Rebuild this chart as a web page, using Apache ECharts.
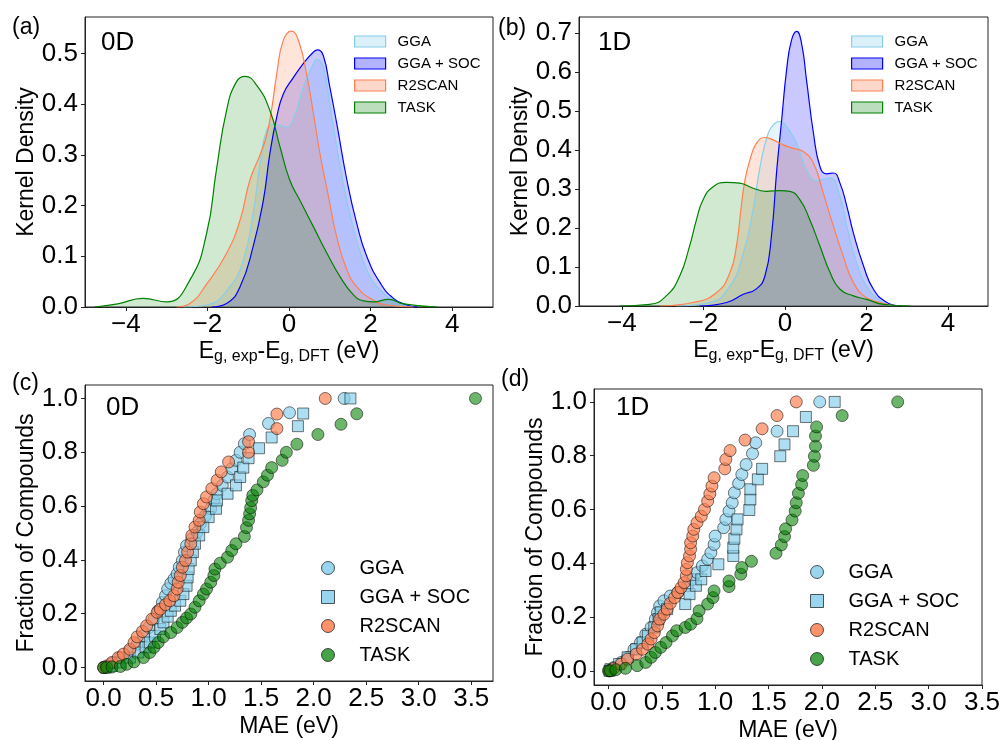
<!DOCTYPE html>
<html>
<head>
<meta charset="utf-8">
<script src="https://cdn.jsdelivr.net/npm/echarts@6/dist/echarts.min.js"></script>
<style>
html, body { margin: 0; padding: 0; background: #fff; }
#chart { width: 1002px; height: 740px; }
</style>
</head>
<body>
<div id="chart"></div>
<script>
// ---- data ----
var methods = ['GGA', 'GGA + SOC', 'R2SCAN', 'TASK'];

// kernel density curves, [E_exp - E_DFT, density]
var kde0D_GGA = [[-2.6,0],[-2.02,0.004],[-1.45,0.04],[-1.12,0.093],[-0.88,0.184],[-0.71,0.283],[-0.55,0.348],[-0.38,0.361],[-0.22,0.358],[-0.06,0.355],[0.15,0.381],[0.35,0.434],[0.6,0.48],[0.68,0.488],[0.84,0.473],[1.0,0.40],[1.17,0.316],[1.42,0.21],[1.66,0.132],[1.91,0.073],[2.24,0.033],[2.65,0.010],[3.05,0]];
var kde0D_SOC = [[-1.9,0],[-1.53,0.007],[-1.2,0.04],[-0.88,0.119],[-0.63,0.21],[-0.47,0.302],[-0.30,0.375],[-0.14,0.42],[0.11,0.453],[0.35,0.48],[0.6,0.503],[0.70,0.507],[0.84,0.496],[1.0,0.434],[1.17,0.362],[1.42,0.25],[1.66,0.165],[1.91,0.099],[2.24,0.047],[2.56,0.017],[2.89,0.004],[3.15,0]];
var kde0D_R2SCAN = [[-2.76,0],[-2.43,0.007],[-2.02,0.045],[-1.53,0.106],[-1.2,0.171],[-0.96,0.25],[-0.71,0.30],[-0.55,0.338],[-0.43,0.388],[-0.30,0.46],[-0.14,0.526],[0.06,0.544],[0.23,0.526],[0.43,0.46],[0.60,0.381],[0.76,0.302],[0.97,0.217],[1.17,0.138],[1.42,0.073],[1.66,0.040],[1.99,0.017],[2.4,0.004],[3.05,0]];
var kde0D_TASK = [[-4.77,0],[-4.2,0.006],[-3.58,0.017],[-3.0,0.010],[-2.43,0.053],[-2.02,0.145],[-1.78,0.27],[-1.53,0.388],[-1.29,0.444],[-1.08,0.455],[-0.79,0.437],[-0.47,0.388],[-0.22,0.316],[0.02,0.25],[0.27,0.21],[0.6,0.158],[0.93,0.106],[1.25,0.06],[1.58,0.024],[1.83,0.012],[2.07,0.010],[2.44,0.015],[2.81,0.006],[3.63,0]];

var kde1D_GGA = [[-2.66,0],[-1.84,0.009],[-1.35,0.051],[-1.02,0.136],[-0.78,0.247],[-0.61,0.357],[-0.41,0.443],[-0.25,0.468],[-0.12,0.473],[0.04,0.46],[0.29,0.417],[0.53,0.349],[0.78,0.321],[0.94,0.325],[1.11,0.328],[1.35,0.281],[1.52,0.204],[1.76,0.111],[2.0,0.051],[2.34,0.013],[2.66,0]];
var kde1D_SOC = [[-2.09,0],[-1.43,0.009],[-1.02,0.03],[-0.70,0.044],[-0.49,0.077],[-0.33,0.18],[-0.20,0.349],[-0.08,0.477],[0.04,0.604],[0.16,0.681],[0.29,0.704],[0.41,0.672],[0.53,0.579],[0.70,0.443],[0.86,0.357],[1.02,0.339],[1.19,0.341],[1.35,0.315],[1.52,0.255],[1.68,0.187],[1.93,0.102],[2.17,0.043],[2.5,0.009],[2.83,0]];
var kde1D_R2SCAN = [[-3.07,0],[-2.25,0.009],[-1.68,0.034],[-1.35,0.085],[-1.19,0.153],[-1.07,0.256],[-0.98,0.323],[-0.86,0.374],[-0.70,0.417],[-0.49,0.432],[-0.29,0.426],[-0.04,0.413],[0.2,0.404],[0.45,0.396],[0.70,0.366],[0.94,0.29],[1.19,0.204],[1.43,0.128],[1.68,0.06],[2.0,0.021],[2.34,0.009],[2.75,0]];
var kde1D_TASK = [[-4.06,0],[-3.32,0.004],[-2.91,0.026],[-2.58,0.077],[-2.34,0.153],[-2.17,0.221],[-2.01,0.272],[-1.76,0.306],[-1.43,0.317],[-1.11,0.315],[-0.78,0.302],[-0.45,0.294],[-0.12,0.296],[0.12,0.294],[0.37,0.272],[0.61,0.221],[0.86,0.153],[1.11,0.085],[1.35,0.043],[1.68,0.026],[2.0,0.017],[2.42,0.004],[3.07,0]];

// cumulative fraction of compounds vs MAE, [MAE, fraction]
var mae0D_GGA = [[0.02,0.002],[0.08,0.015],[0.16,0.037],[0.25,0.062],[0.32,0.087],[0.38,0.118],[0.43,0.149],[0.48,0.18],[0.52,0.211],[0.56,0.242],[0.59,0.267],[0.61,0.292],[0.64,0.313],[0.67,0.329],[0.70,0.348],[0.72,0.373],[0.75,0.398],[0.77,0.429],[0.79,0.453],[0.84,0.478],[0.89,0.503],[0.92,0.534],[0.97,0.565],[1.02,0.59],[1.05,0.621],[1.08,0.646],[1.13,0.677],[1.18,0.708],[1.22,0.739],[1.26,0.77],[1.30,0.80],[1.34,0.832],[1.39,0.866],[1.57,0.907],[1.77,0.947],[2.29,1.0]];
var mae0D_SOC = [[0.02,0],[0.08,0.006],[0.16,0.019],[0.25,0.037],[0.33,0.056],[0.40,0.075],[0.44,0.093],[0.49,0.118],[0.54,0.143],[0.57,0.168],[0.61,0.189],[0.64,0.211],[0.68,0.23],[0.73,0.248],[0.76,0.273],[0.79,0.304],[0.80,0.335],[0.81,0.366],[0.83,0.398],[0.85,0.429],[0.87,0.46],[0.91,0.491],[0.95,0.522],[1.00,0.559],[1.07,0.59],[1.08,0.621],[1.18,0.646],[1.26,0.677],[1.30,0.708],[1.33,0.743],[1.38,0.778],[1.48,0.815],[1.60,0.855],[1.85,0.897],[1.90,0.944],[2.35,1.0]];
var mae0D_R2SCAN = [[0,0],[0.03,0.006],[0.08,0.019],[0.14,0.037],[0.19,0.05],[0.25,0.068],[0.29,0.093],[0.32,0.114],[0.37,0.134],[0.41,0.155],[0.46,0.18],[0.51,0.205],[0.54,0.217],[0.59,0.234],[0.63,0.248],[0.67,0.267],[0.70,0.292],[0.71,0.317],[0.73,0.342],[0.75,0.373],[0.78,0.398],[0.80,0.429],[0.83,0.46],[0.84,0.491],[0.87,0.522],[0.91,0.547],[0.92,0.578],[0.95,0.609],[0.98,0.634],[1.03,0.665],[1.08,0.696],[1.12,0.727],[1.19,0.764],[1.38,0.80],[1.38,0.839],[1.65,0.888],[1.65,0.942],[2.11,1.0]];
var mae0D_TASK = [[0,0],[0.03,0],[0.08,0.002],[0.16,0.004],[0.22,0.012],[0.29,0.021],[0.38,0.037],[0.44,0.056],[0.48,0.075],[0.52,0.093],[0.57,0.114],[0.64,0.13],[0.70,0.149],[0.75,0.168],[0.79,0.184],[0.83,0.199],[0.87,0.224],[0.91,0.248],[0.95,0.273],[0.98,0.292],[1.02,0.317],[1.05,0.342],[1.06,0.366],[1.11,0.388],[1.18,0.41],[1.22,0.435],[1.26,0.46],[1.34,0.487],[1.36,0.52],[1.38,0.547],[1.39,0.571],[1.40,0.594],[1.41,0.62],[1.42,0.64],[1.46,0.66],[1.52,0.69],[1.56,0.715],[1.60,0.743],[1.70,0.77],[1.74,0.80],[1.84,0.830],[2.04,0.866],[2.26,0.904],[2.41,0.943],[3.54,1.0]];

var mae1D_GGA = [[0.01,0],[0.05,0.012],[0.12,0.031],[0.18,0.05],[0.24,0.08],[0.30,0.105],[0.35,0.136],[0.40,0.161],[0.44,0.192],[0.46,0.217],[0.48,0.241],[0.52,0.26],[0.58,0.278],[0.65,0.291],[0.74,0.316],[0.79,0.34],[0.83,0.365],[0.88,0.39],[0.93,0.415],[0.96,0.439],[0.99,0.47],[1.00,0.501],[1.08,0.532],[1.10,0.563],[1.13,0.594],[1.16,0.625],[1.18,0.662],[1.22,0.697],[1.25,0.73],[1.29,0.767],[1.35,0.808],[1.38,0.848],[1.58,0.891],[1.98,1.0]];
var mae1D_SOC = [[0.01,0],[0.02,0.006],[0.10,0.025],[0.18,0.05],[0.26,0.08],[0.32,0.105],[0.37,0.13],[0.43,0.161],[0.47,0.192],[0.49,0.217],[0.55,0.229],[0.72,0.248],[0.76,0.285],[0.82,0.316],[0.87,0.34],[0.91,0.371],[1.03,0.396],[1.17,0.427],[1.17,0.458],[1.18,0.491],[1.20,0.526],[1.21,0.563],[1.32,0.598],[1.33,0.637],[1.33,0.675],[1.40,0.712],[1.44,0.751],[1.61,0.798],[1.65,0.842],[1.73,0.891],[1.85,0.944],[2.12,1.0]];
var mae1D_R2SCAN = [[0.01,0],[0.05,0.009],[0.12,0.025],[0.18,0.043],[0.26,0.062],[0.32,0.08],[0.37,0.099],[0.40,0.118],[0.43,0.142],[0.46,0.167],[0.48,0.192],[0.52,0.21],[0.55,0.229],[0.58,0.251],[0.62,0.272],[0.65,0.291],[0.68,0.309],[0.71,0.328],[0.73,0.353],[0.73,0.377],[0.74,0.402],[0.76,0.427],[0.77,0.452],[0.77,0.476],[0.79,0.501],[0.80,0.526],[0.83,0.551],[0.87,0.575],[0.90,0.60],[0.93,0.631],[0.95,0.658],[0.97,0.687],[0.99,0.718],[1.09,0.751],[1.10,0.786],[1.14,0.819],[1.28,0.858],[1.44,0.90],[1.58,0.949],[1.76,1.0]];
var mae1D_TASK = [[0.0,0],[0.02,0],[0.07,0.004],[0.16,0.009],[0.27,0.019],[0.35,0.031],[0.40,0.05],[0.44,0.068],[0.49,0.087],[0.54,0.105],[0.60,0.13],[0.64,0.149],[0.72,0.161],[0.77,0.173],[0.83,0.194],[0.85,0.223],[0.93,0.248],[0.98,0.272],[0.99,0.297],[1.13,0.313],[1.13,0.334],[1.24,0.359],[1.25,0.384],[1.34,0.407],[1.57,0.437],[1.62,0.468],[1.65,0.499],[1.66,0.528],[1.72,0.561],[1.75,0.594],[1.76,0.625],[1.78,0.66],[1.81,0.693],[1.82,0.726],[1.92,0.764],[1.93,0.798],[1.94,0.835],[1.94,0.873],[1.95,0.907],[2.19,0.949],[2.71,1.0]];

// tick labels
var kdeXTicks = [-4, -2, 0, 2, 4];
var kde0DYTicks = [0, 0.1, 0.2, 0.3, 0.4, 0.5];
var kde1DYTicks = [0, 0.1, 0.2, 0.3, 0.4, 0.5, 0.6, 0.7];
var maeXTicks = [0, 0.5, 1, 1.5, 2, 2.5, 3, 3.5];
var fracYTicks = [0, 0.2, 0.4, 0.6, 0.8, 1];

// ---- styles ----
var FONT = '"Liberation Sans", Arial, Helvetica, sans-serif';
var lineColors = ['#87ceeb', '#0000ff', '#ff7f50', '#008000'];
var fillColors = ['rgba(135,206,235,0.3)', 'rgba(0,0,255,0.3)', 'rgba(255,127,80,0.3)', 'rgba(0,128,0,0.26)'];
var markerFills = ['rgba(135,206,235,0.85)', 'rgba(135,206,235,0.85)', 'rgba(255,127,80,0.85)', 'rgba(0,128,0,0.72)'];
var markerShapes = ['circle', 'rect', 'circle', 'circle'];
var markerEdge = 'rgba(0,0,0,0.65)';

var chart = echarts.init(document.getElementById('chart'));

function signed(v) {
    return v < 0 ? '\u2212' + Math.abs(v) : String(v);
}
function oneDec(v) {
    return v.toFixed(1);
}

function makeGrid(left, top, width, height) {
    return {
        left: left, top: top, width: width, height: height,
        show: true, borderColor: '#222', borderWidth: 1,
        containLabel: false, outerBoundsMode: 'none'
    };
}

var subRich = {
    m: { fontSize: 23, lineHeight: 26, fontFamily: FONT, color: '#000' },
    s: { fontSize: 16, lineHeight: 14, verticalAlign: 'bottom', fontFamily: FONT, color: '#000' }
};

function axis(gridIndex, min, max, ticks, fmt, name, nameGap, isY) {
    return {
        type: 'value',
        gridIndex: gridIndex,
        min: min,
        max: max,
        axisLine: { show: true, onZero: false, lineStyle: { color: '#222', width: 1 } },
        axisTick: { show: true, inside: false, length: 4, customValues: ticks, lineStyle: { color: '#222', width: 1 } },
        axisLabel: {
            customValues: ticks, formatter: fmt, margin: isY ? 7 : 5,
            color: '#000', fontSize: 26, fontFamily: FONT
        },
        splitLine: { show: false },
        name: name,
        nameLocation: 'middle',
        nameGap: nameGap,
        nameMoveOverlap: false,
        nameTextStyle: { fontSize: 23, fontFamily: FONT, color: '#000', rich: subRich, verticalAlign: isY ? 'bottom' : 'top' }
    };
}

var egName = '{m|E}{s|g, exp}{m|-E}{s|g, DFT}{m| (eV)}';

var kdeData = [
    [kde0D_GGA, kde0D_SOC, kde0D_R2SCAN, kde0D_TASK],
    [kde1D_GGA, kde1D_SOC, kde1D_R2SCAN, kde1D_TASK]
];
var maeData = [
    [mae0D_GGA, mae0D_SOC, mae0D_R2SCAN, mae0D_TASK],
    [mae1D_GGA, mae1D_SOC, mae1D_R2SCAN, mae1D_TASK]
];

var series = [];
kdeData.forEach(function (set, p) {
    set.forEach(function (d, k) {
        series.push({
            type: 'line', name: methods[k],
            xAxisIndex: p, yAxisIndex: p,
            data: d,
            symbol: 'none', showSymbol: false,
            smooth: 0.5,
            silent: true,
            lineStyle: { color: lineColors[k], width: 1.2 },
            itemStyle: { color: lineColors[k] },
            areaStyle: { color: fillColors[k] }
        });
    });
});
maeData.forEach(function (set, p) {
    set.forEach(function (d, k) {
        series.push({
            type: 'scatter', name: methods[k],
            xAxisIndex: p + 2, yAxisIndex: p + 2,
            data: d,
            symbol: markerShapes[k], symbolSize: markerShapes[k] === 'rect' ? 11 : 12,
            silent: true,
            itemStyle: { color: markerFills[k], borderColor: markerEdge, borderWidth: 1 }
        });
    });
});

function kdeLegend(left, top) {
    return {
        orient: 'vertical', left: left, top: top,
        itemWidth: 31, itemHeight: 11, itemGap: 7,
        selectedMode: false,
        textStyle: { fontSize: 15, fontFamily: FONT, color: '#000', padding: [0, 0, 0, 7] },
        data: methods.map(function (m, k) {
            return { name: m, icon: 'rect', itemStyle: { color: fillColors[k], borderColor: lineColors[k], borderWidth: 1.2 } };
        })
    };
}
function maeLegend(left, top) {
    return {
        orient: 'vertical', left: left, top: top,
        itemWidth: 13, itemHeight: 13, itemGap: 9,
        selectedMode: false,
        textStyle: { fontSize: 20, fontFamily: FONT, color: '#000', padding: [0, 0, 0, 20] },
        data: methods.map(function (m, k) {
            return { name: m, icon: markerShapes[k], itemStyle: { color: markerFills[k], borderColor: markerEdge, borderWidth: 1 } };
        })
    };
}

function label(text, x, y, size) {
    return {
        type: 'text', silent: true,
        style: { text: text, x: x, y: y, font: size + 'px ' + FONT, fill: '#000', verticalAlign: 'middle', textVerticalAlign: 'middle' }
    };
}

var option = {
    backgroundColor: '#fff',
    animation: false,
    grid: [
        makeGrid(85, 17, 408, 290),
        makeGrid(579, 17, 409, 289),
        makeGrid(85, 385, 408, 296),
        makeGrid(594, 389, 388, 296)
    ],
    xAxis: [
        axis(0, -5.0, 5.0, kdeXTicks, signed, egName, 32, false),
        axis(1, -5.05, 4.98, kdeXTicks, signed, egName, 32, false),
        axis(2, -0.177, 3.707, maeXTicks, oneDec, 'MAE (eV)', 34, false),
        axis(3, -0.135, 3.5, maeXTicks, oneDec, 'MAE (eV)', 34, false)
    ],
    yAxis: [
        axis(0, 0, 0.572, kde0DYTicks, oneDec, 'Kernel Density', 47, true),
        axis(1, 0, 0.741, kde1DYTicks, oneDec, 'Kernel Density', 47, true),
        axis(2, -0.05, 1.05, fracYTicks, oneDec, 'Fraction of Compounds', 47, true),
        axis(3, -0.053, 1.048, fracYTicks, oneDec, 'Fraction of Compounds', 47, true)
    ],
    legend: [
        kdeLegend(349, 29),
        kdeLegend(846, 29),
        maeLegend(316, 553),
        maeLegend(805, 557)
    ],
    graphic: [
        label('(a)', 12, 28, 23),
        label('(b)', 498, 29, 23),
        label('(c)', 12, 384, 23),
        label('(d)', 501, 380, 23),
        label('0D', 101, 43, 26),
        label('1D', 598, 43, 26),
        label('0D', 106, 408, 26),
        label('1D', 616, 408, 26)
    ],
    series: series
};

chart.setOption(option);
</script>
</body>
</html>
